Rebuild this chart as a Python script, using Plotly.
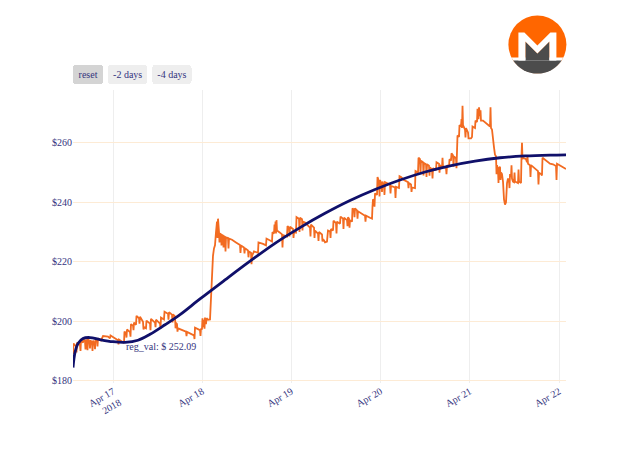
import base64
import pandas as pd
import plotly.graph_objects as go

START = "2018-04-16 13:14"

price_hours = [
    0.00, 0.13, 0.81, 0.94, 1.08, 1.88, 2.02, 2.15, 2.69, 2.82, 3.23, 3.36, 3.50, 3.77, 3.90, 4.04,
    4.44, 4.57, 4.71, 5.11, 5.25, 5.38, 5.78, 5.92, 6.05, 6.46, 6.59, 6.73, 7.53, 8.07, 9.42, 9.95,
    10.09, 10.76, 12.11, 12.24, 12.38, 13.72, 13.85, 14.26, 14.39, 14.53, 15.33, 15.47, 15.60, 16.14,
    16.28, 16.41, 16.95, 17.08, 17.76, 17.89, 18.03, 18.83, 18.97, 19.10, 19.64, 19.77, 20.72, 20.85,
    20.98, 22.06, 22.20, 22.33, 23.41, 23.54, 23.67, 24.48, 24.62, 25.56, 25.69, 25.83, 26.63, 26.77,
    26.90, 27.44, 27.58, 27.71, 27.98, 28.11, 28.25, 30.40, 30.54, 30.67, 32.55, 32.69, 32.82, 34.17,
    34.30, 34.44, 34.70, 34.84, 34.97, 35.24, 35.38, 35.51, 35.78, 35.92, 36.32, 36.86, 36.99, 37.13,
    37.40, 37.66, 37.93, 38.20, 38.47, 38.74, 38.87, 39.01, 39.28, 39.41, 39.55, 39.82, 39.95, 40.09,
    40.35, 40.49, 40.62, 40.89, 41.03, 41.16, 41.70, 41.83, 41.97, 42.78, 43.85, 44.93, 45.06, 45.20,
    46.00, 46.14, 46.27, 47.08, 47.21, 47.35, 47.89, 48.02, 48.16, 48.69, 49.77, 49.90, 51.12, 51.92,
    52.06, 53.00, 53.54, 53.67, 54.08, 54.21, 54.34, 54.48, 54.61, 54.75, 54.88, 55.69, 56.23, 56.36,
    56.50, 57.57, 57.71, 58.11, 58.25, 58.38, 59.19, 59.32, 59.46, 59.99, 60.13, 60.80, 60.94, 61.07,
    61.61, 61.74, 61.88, 62.42, 63.49, 63.76, 63.89, 64.03, 64.84, 64.97, 65.11, 65.91, 66.05, 66.18,
    66.99, 67.12, 67.26, 67.53, 67.80, 68.33, 68.60, 69.14, 69.28, 69.41, 69.95, 70.08, 70.75, 70.89,
    71.02, 71.83, 71.97, 72.64, 72.77, 72.91, 73.71, 73.85, 73.98, 74.25, 74.39, 74.52, 75.06, 75.19,
    75.60, 75.73, 75.87, 76.40, 76.54, 76.67, 77.75, 78.56, 78.69, 78.83, 79.90, 80.44, 80.57, 80.71,
    80.98, 81.11, 81.25, 81.79, 81.92, 82.32, 82.46, 82.59, 83.00, 83.13, 83.27, 83.67, 83.80, 83.94,
    85.28, 85.42, 85.55, 86.63, 86.76, 86.90, 87.70, 87.84, 88.24, 89.05, 90.13, 90.26, 90.39, 90.93,
    91.07, 91.20, 92.01, 92.14, 92.82, 92.95, 93.35, 93.49, 93.62, 94.16, 94.29, 94.43, 94.97, 95.10,
    95.24, 95.77, 95.91, 96.04, 96.58, 96.72, 96.85, 97.66, 97.79, 98.46, 98.60, 98.73, 99.27, 99.41,
    99.54, 100.35, 100.48, 100.62, 101.16, 101.29, 101.69, 101.83, 102.23, 102.37, 102.50, 103.04,
    103.17, 103.31, 103.44, 103.85, 103.98, 104.38, 104.52, 104.65, 104.79, 104.92, 105.46, 105.59,
    105.73, 106.27, 106.40, 107.07, 107.34, 107.48, 108.15, 108.28, 108.69, 108.82, 109.09, 109.23,
    109.50, 109.63, 109.76, 110.30, 111.92, 112.19, 112.32, 112.45, 112.72, 112.99, 113.26, 113.53,
    113.80, 113.94, 114.07, 114.34, 114.47, 114.61, 114.88, 115.01, 115.15, 115.41, 115.68, 115.95,
    116.22, 116.49, 116.76, 117.03, 117.30, 117.43, 117.57, 117.84, 117.97, 118.10, 118.37, 118.64,
    118.78, 118.91, 119.72, 119.86, 119.99, 120.26, 120.53, 120.66, 120.79, 120.93, 121.06, 121.87,
    122.14, 122.27, 122.41, 122.95, 123.08, 123.22, 124.29, 125.10, 125.23, 125.37, 125.91, 126.17,
    126.31, 127.25, 128.33, 129.13, 129.94, 130.08, 130.21, 131.02, 132.63,
]

price_usd = [
    189.0, 192.5, 191.5, 189.5, 192.8, 192.0, 190.0, 193.5, 192.8, 194.0, 193.2, 190.5, 193.8, 192.8, 190.2, 194.2,
    193.0, 190.8, 193.6, 192.5, 190.0, 193.5, 192.4, 190.6, 194.0, 193.6, 191.5, 194.2, 193.5, 195.0, 194.8, 194.2,
    195.2, 194.6, 193.6, 192.2, 193.8, 192.7, 196.5, 196.0, 194.5, 197.2, 196.3, 194.8, 199.0, 198.5,
    197.0, 199.5, 198.8, 201.8, 201.0, 199.2, 201.5, 199.8, 197.2, 198.0, 197.6, 200.2, 199.2, 197.0,
    200.8, 199.5, 198.0, 200.5, 199.2, 197.5, 201.2, 200.6, 203.2, 202.5, 200.5, 203.0, 202.2, 199.6,
    202.3, 201.6, 197.6, 199.5, 199.0, 196.5, 197.6, 196.5, 195.0, 196.4, 195.2, 194.0, 197.8, 197.0,
    195.0, 197.5, 197.2, 201.0, 198.0, 200.5, 197.5, 201.2, 199.0, 201.0, 200.5, 200.6, 205.0, 211.0,
    218.0, 222.0, 224.5, 225.5, 230.0, 233.5, 228.0, 234.5, 230.0, 226.5, 229.5, 229.2, 225.5, 229.0,
    228.8, 224.8, 228.6, 228.4, 223.5, 228.2, 228.0, 224.5, 227.8, 227.4, 226.5, 225.6, 223.0, 225.5,
    224.8, 222.8, 224.6, 223.8, 221.5, 223.5, 223.0, 219.2, 222.0, 223.5, 223.0, 226.5, 226.0, 225.5,
    227.8, 227.0, 226.8, 230.0, 229.5, 232.5, 230.0, 233.5, 229.5, 234.0, 230.5, 229.8, 229.2, 224.8,
    229.0, 228.5, 232.0, 231.5, 228.5, 231.8, 231.0, 228.0, 230.0, 229.8, 235.0, 234.5, 230.0, 234.8,
    234.3, 230.5, 233.5, 233.2, 232.0, 231.5, 228.5, 232.5, 231.5, 228.0, 230.5, 229.5, 227.0, 230.0,
    229.2, 226.8, 227.5, 227.2, 226.5, 226.8, 230.5, 230.2, 228.0, 231.0, 230.5, 233.8, 233.0, 229.5,
    233.5, 232.8, 235.2, 234.5, 231.0, 234.8, 234.0, 232.0, 235.0, 234.5, 231.5, 234.0, 233.5, 238.0,
    237.5, 235.0, 238.0, 237.3, 234.5, 237.0, 236.0, 235.5, 233.5, 235.5, 234.8, 234.5, 238.5, 241.0,
    240.5, 238.5, 243.0, 242.5, 248.5, 247.0, 242.0, 247.5, 246.0, 243.5, 247.0, 245.5, 242.5, 246.8,
    246.0, 243.0, 245.5, 245.0, 241.5, 245.2, 244.8, 248.8, 248.5, 247.5, 246.8, 244.8, 246.5, 246.0,
    243.5, 245.0, 244.8, 250.5, 250.0, 255.0, 254.5, 249.5, 254.0, 253.5, 249.0, 253.2, 252.8, 248.5,
    252.8, 252.3, 249.0, 251.8, 251.0, 248.0, 251.5, 250.8, 253.5, 253.0, 250.0, 252.5, 251.8, 255.0,
    252.0, 251.5, 249.5, 252.5, 252.0, 254.5, 254.0, 256.5, 255.8, 252.0, 255.5, 254.8,
    251.5, 256.0, 262.5, 262.0, 266.0, 265.5, 268.0, 265.0, 272.5, 266.0, 264.5, 261.8,
    265.0, 263.5, 261.5, 261.5, 262.0, 265.5, 265.0, 267.5, 267.0, 271.5, 268.0, 272.0,
    269.0, 271.0, 267.5, 267.5, 266.0, 265.5, 272.0, 265.0, 264.5, 260.0, 258.5, 256.0,
    255.5, 249.5, 252.5, 251.0, 246.5, 251.5, 252.0, 247.5, 250.0, 249.5, 247.0, 241.0,
    239.2, 240.0, 246.5, 248.0, 247.0, 244.8, 249.5, 248.5, 252.5, 248.0, 247.0, 246.8,
    250.0, 247.0, 246.5, 251.0, 247.0, 246.8, 246.5, 255.5, 260.0, 254.5, 255.0, 254.5,
    253.5, 255.5, 253.0, 252.5, 248.5, 252.5, 251.5, 250.5, 246.0, 250.0, 249.5, 249.0,
    255.0, 254.0, 253.0, 252.8, 252.2, 247.5, 253.0, 252.4, 251.2,
]

reg_hours = [0.0, 0.54, 1.35, 2.69, 4.57, 7.26, 10.76, 13.99, 17.49, 20.72, 24.75, 28.79, 34.17,
             40.89, 47.62, 54.34, 61.07, 67.80, 74.52, 81.25, 87.97, 94.70, 101.42, 108.15,
             114.88, 121.60, 128.33, 132.63]
reg_usd = [184.4, 189.5, 192.5, 194.2, 194.5, 193.8, 193.1, 192.9, 193.6, 195.6, 198.8, 202.2, 207.5,
           213.9, 220.2, 226.2, 231.5, 236.3, 240.6, 244.3, 247.5, 250.2, 252.3, 253.9,
           255.0, 255.6, 255.9, 256.0]

annotation_text = "reg_val: $ 252.09"

base = pd.Timestamp(START)
price_x = base + pd.to_timedelta(price_hours, unit="h")
reg_x = base + pd.to_timedelta(reg_hours, unit="h")

TEXT = "#34347e"
FONT = "Liberation Serif"
FS = 10

fig = go.Figure()
fig.add_trace(go.Scatter(x=price_x, y=price_usd, mode="lines",
                         line=dict(color="#f26b21", width=1.8), name="price"))
fig.add_trace(go.Scatter(x=reg_x, y=reg_usd, mode="lines",
                         line=dict(color="#10106a", width=2.8, shape="spline"), name="regression"))

logo_svg = """<svg xmlns='http://www.w3.org/2000/svg' viewBox='-30 -30 60 60' width='60' height='60'>
<circle cx='0' cy='0' r='29' fill='#ff6600'/>
<path d='M -25.9 13 A 29 29 0 0 0 25.9 13 Z' fill='#ffffff'/>
<path d='M -24.2 16 A 29 29 0 0 0 24.2 16 Z' fill='#4c4c4c'/>
<path d='M -12 16 L -12 -3 L 0 9 L 12 -3 L 12 16 Z' fill='#4c4c4c'/>
<path d='M -19 16 L -19 -12 L -13 -12 L 0 1 L 13 -12 L 19 -12 L 19 16 L 12 16 L 12 -3 L 0 9 L -12 -3 L -12 16 Z' fill='#ffffff'/>
</svg>"""
logo_uri = "data:image/svg+xml;base64," + base64.b64encode(logo_svg.encode()).decode()

fig.update_layout(
    width=632, height=449,
    margin=dict(l=65, r=74, t=82, b=74),
    paper_bgcolor="white", plot_bgcolor="white",
    showlegend=False,
    font=dict(family=FONT, color=TEXT, size=FS),
    xaxis=dict(
        type="date", autorange=True, showgrid=True, gridcolor="#eeeeee", zeroline=False,
        tickangle=-30, tickfont=dict(family=FONT, size=FS, color=TEXT), showline=False,
        rangeselector=dict(
            buttons=[
                dict(step="all", label="reset"),
                dict(count=2, step="day", stepmode="backward", label="-2 days"),
                dict(count=4, step="day", stepmode="backward", label="-4 days"),
            ],
            font=dict(family=FONT, size=FS, color=TEXT),
            bgcolor="#eeeeee", activecolor="#d4d4d4",
        ),
    ),
    yaxis=dict(
        range=[179.2, 277.8], showgrid=True, gridcolor="#fdebd5", zeroline=False,
        tickprefix="$", dtick=20, tickfont=dict(family=FONT, size=FS, color=TEXT), showline=False,
    ),
    annotations=[dict(text=annotation_text, xref="paper", yref="paper", x=0.1034, y=0.124,
                      xanchor="left", yanchor="middle", showarrow=False,
                      font=dict(family=FONT, size=FS, color=TEXT))],
    images=[dict(source=logo_uri, xref="paper", yref="paper", x=0.942, y=1.155,
                 sizex=0.1217, sizey=0.205, xanchor="center", yanchor="middle", layer="above")],
)

fig.write_html("out.html")
